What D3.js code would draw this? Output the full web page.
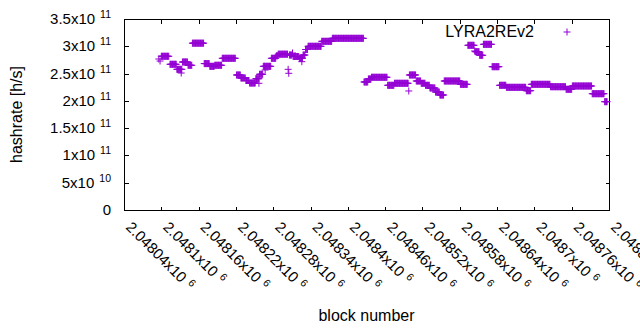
<!DOCTYPE html>
<html>
<head>
<meta charset="utf-8">
<script src="https://cdn.jsdelivr.net/npm/d3@7"></script>
<style>
  body { margin: 0; background: #fff; }
  text { font-family: "Liberation Sans", Arial, sans-serif; fill: #000; }
</style>
</head>
<body>
<div id="chart"></div>
<script>
// runs of consecutive blocks that share one hashrate value
var runFrom = [2048096, 2048098, 2048100, 2048114, 2048125, 2048132, 2048134, 2048143, 2048150, 2048169,
               2048178, 2048186, 2048198, 2048221, 2048228, 2048236, 2048242, 2048252, 2048257, 2048258,
               2048264, 2048267, 2048277, 2048285, 2048288, 2048304, 2048305, 2048306, 2048311, 2048312,
               2048322, 2048326, 2048328, 2048332, 2048336, 2048358, 2048375, 2048426, 2048433, 2048438,
               2048464, 2048475, 2048498, 2048499, 2048510, 2048518, 2048525, 2048532, 2048541, 2048548,
               2048555, 2048581, 2048593, 2048604, 2048605, 2048612, 2048618, 2048632, 2048644, 2048655,
               2048687, 2048695, 2048726, 2048751, 2048761, 2048793, 2048813];
var runTo   = [2048096, 2048098, 2048112, 2048124, 2048133, 2048132, 2048142, 2048149, 2048168, 2048177,
               2048185, 2048197, 2048219, 2048227, 2048235, 2048241, 2048251, 2048257, 2048257, 2048263,
               2048276, 2048267, 2048284, 2048287, 2048303, 2048304, 2048305, 2048310, 2048311, 2048321,
               2048327, 2048326, 2048331, 2048335, 2048357, 2048374, 2048425, 2048432, 2048437, 2048463,
               2048474, 2048497, 2048498, 2048509, 2048517, 2048524, 2048531, 2048540, 2048547, 2048554,
               2048580, 2048592, 2048603, 2048604, 2048611, 2048617, 2048631, 2048643, 2048654, 2048686,
               2048694, 2048725, 2048750, 2048760, 2048792, 2048812, 2048817];
var runRate = [2.767e11, 2.730e11, 2.817e11, 2.670e11, 2.578e11, 2.510e11, 2.712e11, 2.652e11, 3.057e11, 2.683e11,
               2.633e11, 2.652e11, 2.780e11, 2.474e11, 2.419e11, 2.373e11, 2.327e11, 2.406e11, 2.322e11, 2.487e11,
               2.633e11, 2.565e11, 2.780e11, 2.826e11, 2.855e11, 2.578e11, 2.505e11, 2.840e11, 2.877e11, 2.813e11,
               2.780e11, 2.718e11, 2.840e11, 2.941e11, 3.000e11, 3.091e11, 3.146e11, 2.346e11, 2.401e11, 2.432e11,
               2.285e11, 2.322e11, 2.181e11, 2.474e11, 2.364e11, 2.322e11, 2.285e11, 2.236e11, 2.162e11, 2.107e11,
               2.364e11, 2.303e11, 3.018e11, 2.914e11, 2.901e11, 2.835e11, 3.036e11, 2.626e11, 2.285e11, 2.248e11,
               2.186e11, 2.303e11, 2.259e11, 2.212e11, 2.272e11, 2.131e11, 1.985e11];

var xTicks = [2048040, 2048100, 2048160, 2048220, 2048280, 2048340, 2048400,
              2048460, 2048520, 2048580, 2048640, 2048700, 2048760, 2048820];
var yTicks = [0, 5e10, 1e11, 1.5e11, 2e11, 2.5e11, 3e11, 3.5e11];
var seriesName = "LYRA2REv2";
var color = "#9400d3";

var W = 640, H = 330;
var plotL = 124, plotR = 609, plotT = 19, plotB = 210;

var svg = d3.select("#chart").append("svg")
    .attr("width", W)
    .attr("height", H);

var x = d3.scaleLinear().domain([xTicks[0], xTicks[xTicks.length - 1]]).range([plotL, plotR]);
var y = d3.scaleLinear().domain([0, 3.5e11]).range([plotB, plotT]);

// mantissa "x10" and exponent, gnuplot style
function sci(v) {
    if (v === 0) return ["0", null];
    var e = Math.floor(Math.log10(v) + 1e-9);
    var m = +(v / Math.pow(10, e)).toFixed(5);
    return [m + "x10", e];
}

// ticks pointing inwards on all four sides
svg.append("g").attr("transform", "translate(" + (plotL + 0.5) + ",0)")
    .call(d3.axisLeft(y).tickValues(yTicks).tickSize(-4).tickSizeOuter(0).tickFormat(""));
svg.append("g").attr("transform", "translate(" + (plotR + 0.5) + ",0)")
    .call(d3.axisRight(y).tickValues(yTicks).tickSize(-4).tickSizeOuter(0).tickFormat(""));
svg.append("g").attr("transform", "translate(0," + (plotB + 0.5) + ")")
    .call(d3.axisBottom(x).tickValues(xTicks).tickSize(-4).tickSizeOuter(0).tickFormat(""));
svg.append("g").attr("transform", "translate(0," + (plotT + 0.5) + ")")
    .call(d3.axisTop(x).tickValues(xTicks).tickSize(-4).tickSizeOuter(0).tickFormat(""));
svg.selectAll(".domain").remove();
svg.selectAll(".tick line").attr("stroke", "#000").attr("shape-rendering", "crispEdges");

svg.append("rect")
    .attr("x", plotL + 0.5).attr("y", plotT + 0.5)
    .attr("width", plotR - plotL).attr("height", plotB - plotT)
    .attr("fill", "none").attr("stroke", "#000")
    .attr("shape-rendering", "crispEdges");

// y tick labels
yTicks.forEach(function (v) {
    var p = sci(v);
    var t = svg.append("text")
        .attr("x", 111).attr("y", y(v) + 5)
        .attr("text-anchor", "end")
        .style("font-size", "15px");
    t.append("tspan").text(p[0]);
    if (p[1] !== null) {
        t.append("tspan").attr("dx", 5).attr("dy", -6)
            .style("font-size", "10.5px").text(p[1]);
    }
});

// x tick labels, rotated
xTicks.forEach(function (v) {
    var p = sci(v);
    var t = svg.append("text")
        .attr("transform", "translate(" + (x(v) + 1) + ",228) rotate(45)")
        .style("font-size", "15px");
    t.append("tspan").text(p[0]);
    t.append("tspan").attr("dx", 5).attr("dy", -5)
        .style("font-size", "10.5px").text(p[1]);
});

svg.append("text")
    .attr("transform", "translate(22," + ((plotT + plotB) / 2) + ") rotate(-90)")
    .attr("text-anchor", "middle")
    .style("font-size", "16px")
    .text("hashrate [h/s]");

svg.append("text")
    .attr("x", (plotL + plotR) / 2).attr("y", 321)
    .attr("text-anchor", "middle")
    .style("font-size", "16px")
    .text("block number");

// one point per block
var points = [];
runFrom.forEach(function (b0, i) {
    for (var b = b0; b <= runTo[i]; b++) points.push({block: b, rate: runRate[i]});
});

var cross = "M-3.5,0H3.5M0,-3.5V3.5";

svg.append("g").selectAll("path")
    .data(points)
    .enter().append("path")
    .attr("transform", function (d) { return "translate(" + x(d.block) + "," + y(d.rate) + ")"; })
    .attr("d", cross)
    .attr("stroke", color)
    .attr("stroke-width", 1)
    .attr("fill", "none");

// key
svg.append("text")
    .attr("x", 534).attr("y", 37)
    .attr("text-anchor", "end")
    .style("font-size", "16px")
    .text(seriesName);
svg.append("path")
    .attr("transform", "translate(567,32)")
    .attr("d", cross)
    .attr("stroke", color)
    .attr("stroke-width", 1)
    .attr("fill", "none");
</script>
</body>
</html>
